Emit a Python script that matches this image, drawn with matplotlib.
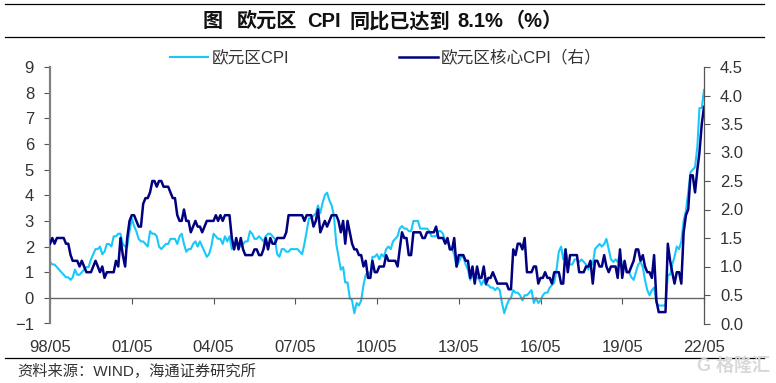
import pandas as pd
import matplotlib
matplotlib.use("Agg")
import matplotlib.pyplot as plt
from matplotlib.lines import Line2D

plt.rcParams['font.family'] = ['Liberation Sans', 'Noto Sans CJK SC']

# monthly, 1998/05 - 2022/05
cpi = [1.4, 1.3, 1.3, 1.2, 1.1, 1.0, 0.9, 0.8,
       0.8, 0.7, 0.8, 1.1, 0.9, 0.9, 1.0, 1.1, 1.2, 1.2, 1.5, 1.7,
       1.9, 1.9, 2.0, 1.7, 1.8, 2.1, 2.1, 2.0, 2.4, 2.4, 2.5, 2.5,
       2.1, 2.0, 2.0, 2.6, 3.1, 2.8, 2.6, 2.3, 2.2, 2.2, 2.1, 2.0,
       2.6, 2.5, 2.5, 2.4, 2.0, 1.9, 2.0, 2.1, 2.1, 2.3, 2.3, 2.3,
       2.1, 2.4, 2.5, 2.1, 1.8, 1.9, 1.9, 2.1, 2.2, 2.0, 2.2, 2.0,
       1.8, 1.6, 1.7, 2.0, 2.5, 2.4, 2.3, 2.3, 2.1, 2.4, 2.2, 2.4,
       1.9, 2.1, 2.1, 2.1, 2.0, 2.1, 2.2, 2.2, 2.6, 2.5, 2.3, 2.3,
       2.4, 2.3, 2.2, 2.4, 2.5, 2.5, 2.4, 2.3, 1.7, 1.6, 1.9, 1.9,
       1.8, 1.8, 1.9, 1.9, 1.9, 1.9, 1.8, 1.7, 2.1, 2.6, 3.1, 3.1,
       3.2, 3.3, 3.6, 3.3, 3.7, 4.0, 4.1, 3.8, 3.6, 3.2, 2.1, 1.6,
       1.1, 1.2, 0.6, 0.6, 0.0, -0.1, -0.6, -0.2, -0.3, -0.1, 0.5, 0.9,
       1.0, 0.9, 1.6, 1.6, 1.7, 1.5, 1.7, 1.6, 1.9, 2.0, 1.9, 2.2,
       2.3, 2.4, 2.7, 2.8, 2.7, 2.7, 2.6, 2.6, 3.0, 3.0, 3.0, 2.7,
       2.7, 2.7, 2.7, 2.6, 2.4, 2.4, 2.4, 2.6, 2.6, 2.5, 2.2, 2.2,
       2.0, 1.9, 1.7, 1.2, 1.4, 1.6, 1.6, 1.3, 1.1, 0.7, 0.9, 0.8,
       0.8, 0.7, 0.5, 0.7, 0.5, 0.5, 0.4, 0.4, 0.3, 0.4, 0.3, -0.2,
       -0.6, -0.3, -0.1, 0.0, 0.3, 0.2, 0.2, 0.1, -0.1, 0.1, 0.1, 0.2,
       0.3, -0.2, 0.0, -0.2, -0.1, 0.1, 0.2, 0.2, 0.4, 0.5, 0.6, 1.1,
       1.8, 2.0, 1.5, 1.9, 1.4, 1.3, 1.3, 1.5, 1.5, 1.4, 1.5, 1.4,
       1.3, 1.1, 1.4, 1.3, 1.9, 2.0, 2.1, 2.0, 2.1, 2.3, 1.9, 1.5,
       1.4, 1.5, 1.4, 1.7, 1.2, 1.3, 1.0, 1.0, 0.8, 0.7, 1.0, 1.3,
       1.4, 1.2, 0.7, 0.3, 0.1, 0.3, 0.4, -0.2, -0.3, -0.3, -0.3, -0.3,
       0.9, 0.9, 1.3, 1.6, 2.0, 1.9, 2.2, 3.0, 3.4, 4.1, 4.9, 5.0,
       5.1, 5.9, 7.4, 7.4, 8.1]

core = [1.4, 1.5, 1.4, 1.5, 1.5, 1.5, 1.5, 1.4,
        1.4, 1.2, 1.1, 1.1, 1.1, 1.0, 1.1, 1.0, 0.9, 0.9, 0.9, 1.0,
        1.1, 1.0, 0.9, 1.0, 0.8, 0.9, 0.9, 0.9, 0.9, 1.1, 1.0, 1.5,
        1.2, 1.0, 1.5, 1.8, 1.9, 1.9, 1.8, 1.7, 1.7, 2.1, 2.2, 2.2,
        2.3, 2.5, 2.5, 2.4, 2.5, 2.5, 2.4, 2.4, 2.4, 2.3, 2.2, 2.2,
        1.9, 1.8, 1.8, 2.0, 1.8, 1.8, 1.6, 1.7, 1.8, 1.7, 1.7, 1.6,
        1.7, 1.8, 1.8, 1.8, 1.8, 1.9, 1.8, 1.9, 1.8, 1.9, 1.9, 1.9,
        1.5, 1.3, 1.5, 1.3, 1.5, 1.3, 1.2, 1.2, 1.2, 1.2, 1.3, 1.3,
        1.2, 1.2, 1.3, 1.5, 1.3, 1.5, 1.4, 1.4, 1.5, 1.5, 1.5, 1.5,
        1.6, 1.9, 1.9, 1.9, 1.9, 1.9, 1.9, 1.9, 1.8, 1.9, 1.9, 1.9,
        1.7, 1.8, 2.0, 1.6, 1.7, 1.8, 1.7, 1.8, 1.9, 1.9, 1.9, 1.8,
        1.6, 1.8, 1.4, 1.8, 1.6, 1.4, 1.3, 1.3, 1.2, 1.2, 1.0, 1.1,
        0.8, 0.8, 1.1, 0.9, 0.9, 1.0, 1.0, 1.0, 1.2, 1.1, 1.1, 1.1,
        1.1, 1.0, 1.3, 1.6, 1.5, 1.5, 1.2, 1.2, 1.6, 1.6, 1.6, 1.6,
        1.5, 1.5, 1.6, 1.6, 1.6, 1.6, 1.7, 1.5, 1.5, 1.5, 1.4, 1.5,
        1.3, 1.3, 1.5, 1.0, 1.2, 1.2, 1.2, 1.1, 1.1, 0.8, 1.0, 0.7,
        1.0, 0.8, 0.8, 1.0, 0.7, 0.8, 0.8, 0.9, 0.8, 0.7, 0.7, 0.7,
        0.7, 0.7, 0.6, 0.6, 1.3, 1.2, 1.4, 1.4, 1.3, 1.5, 0.9, 0.9,
        0.9, 1.0, 1.0, 0.7, 0.8, 0.8, 0.9, 0.8, 0.8, 0.7, 0.9, 0.9,
        0.9, 0.7, 0.7, 1.3, 0.9, 1.2, 1.2, 1.2, 1.2, 0.9, 0.9, 0.9,
        1.0, 1.0, 1.1, 0.7, 1.1, 1.1, 1.0, 1.0, 1.2, 1.0, 0.9, 1.0,
        1.0, 1.0, 0.8, 1.3, 0.8, 1.1, 0.9, 0.9, 1.0, 1.1, 1.3, 1.3,
        1.1, 1.2, 1.0, 0.9, 0.9, 0.8, 1.2, 0.4, 0.2, 0.2, 0.2, 0.2,
        1.4, 1.1, 0.9, 0.7, 0.9, 0.9, 0.7, 1.6, 1.9, 2.0, 2.6, 2.6,
        2.3, 2.7, 3.0, 3.5, 3.8]

x_labels = ["98/05", "01/05", "04/05", "07/05", "10/05", "13/05", "16/05", "19/05", "22/05"]
left_ticks = [-1, 0, 1, 2, 3, 4, 5, 6, 7, 8, 9]
right_ticks = [0.0, 0.5, 1.0, 1.5, 2.0, 2.5, 3.0, 3.5, 4.0, 4.5]

months = pd.date_range("1998-05-01", periods=len(cpi), freq="MS")

W, H = 776, 383
fig = plt.figure(figsize=(W / 100, H / 100), dpi=100)
ax = fig.add_axes([50 / W, 1 - 323.5 / H, 654 / W, 256.5 / H])
ax2 = ax.twinx()

l1, = ax.plot(months, cpi, color="#19C8FA", lw=1.5, label="欧元区CPI")
l2, = ax2.plot(months, core, color="#000080", lw=1.8, label="欧元区核心CPI（右）")

ax.set_xlim(months[0], months[-1])
ax.set_ylim(-1, 9)
ax2.set_ylim(0, 4.5)
ax.patch.set_visible(False)

ax.set_yticks(left_ticks)
ax2.set_yticks(right_ticks)
ax2.set_yticklabels([f"{v:.1f}" for v in right_ticks])
ax.set_xticks(months[::36])
ax.set_xticklabels(x_labels)

for s in ["top", "right"]:
    ax.spines[s].set_visible(False)
for s in ["top", "left", "bottom"]:
    ax2.spines[s].set_visible(False)
ax.spines["left"].set_color("#808080")
ax.spines["left"].set_linewidth(1.6)
ax.spines["bottom"].set_position(("data", 0))
ax.spines["bottom"].set_color("#666666")
ax.spines["bottom"].set_linewidth(1.0)
ax2.spines["right"].set_color("#555555")
ax2.spines["right"].set_linewidth(0.9)

ax.tick_params(axis="y", length=4.5, width=0.8, color="#555555", pad=7, labelsize=12, labelcolor="#333333")
ax.tick_params(axis="x", length=4.5, width=0.8, color="#555555", pad=26, labelsize=12, labelcolor="#333333")
ax2.tick_params(axis="y", length=4.5, width=0.8, color="#555555", pad=7, labelsize=12, labelcolor="#333333")

fig.legend(handles=[l1, l2], loc="center", bbox_to_anchor=(386 / W, 1 - 58 / H), ncol=2, frameon=False,
           fontsize=12, labelcolor="#333333", handlelength=2.3, handletextpad=0.2, columnspacing=6.6)

# rules above and below
for y in [3.5, 37, 357.5]:
    fig.add_artist(Line2D([5 / W, 764 / W], [1 - y / H, 1 - y / H], color="black", lw=0.9))

# title pieces, the CJK in the original is spaced wider than the font
title_parts = [("图", 213), ("欧元区", 267), ("CPI", 324), ("同比已达到", 400), ("8.1%", 480), ("（%）", 534)]
for part, cx in title_parts:
    fig.text(cx / W, 1 - 21.5 / H, part, ha="center", va="center", fontsize=14.5, fontweight="bold", color="#111111")

fig.text(17 / W, 1 - 371 / H, "资料来源：WIND，海通证券研究所", ha="left", va="center", fontsize=11, color="#333333")
fig.text(770 / W, 1 - 366 / H, "G 格隆汇", ha="right", va="center", fontsize=13, fontweight="bold", color="#d9d9d9")

fig.savefig("out.png", dpi=100)
